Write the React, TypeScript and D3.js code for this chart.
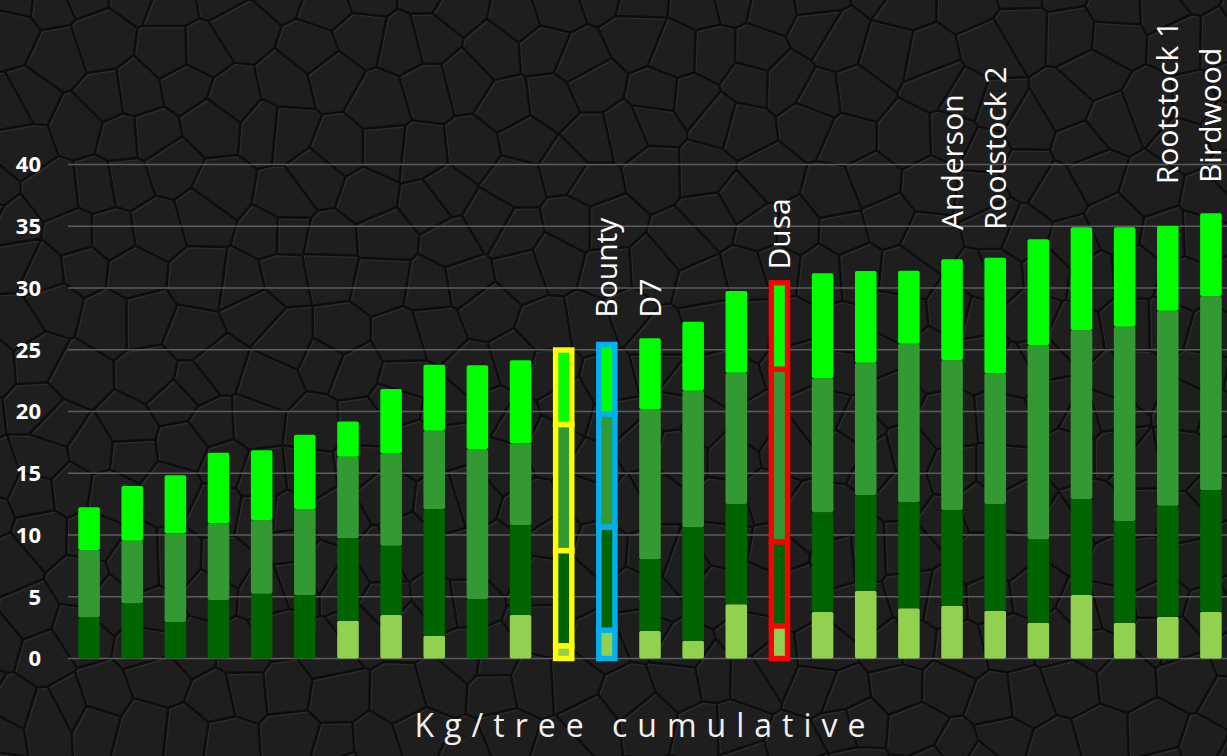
import { useMemo } from 'react'
import * as d3 from 'd3'

const W = 1227
const H = 756

// 27 trees, left to right
const categories = [
  'T1', 'T2', 'T3', 'T4', 'T5', 'T6', 'T7', 'T8', 'T9',
  'T10', 'T11', 'T12', 'T13', 'T14', 'T15', 'T16', 'T17', 'T18',
  'T19', 'T20', 'T21', 'T22', 'T23', 'T24', 'T25', 'T26', 'T27'
]

// kg/tree per harvest, stacked bottom to top
const light = [0, 0, 0, 0, 0, 0, 3.06, 3.52, 1.85, 0, 3.52, 1.03, 2.29, 2.23, 1.44, 4.39, 2.65, 3.77, 5.49, 4.06, 4.28, 3.87, 2.9, 5.14, 2.9, 3.38, 3.79]
const dark = [3.34, 4.47, 2.96, 4.74, 5.25, 5.14, 6.67, 5.61, 10.25, 4.82, 7.29, 7.71, 8.36, 5.8, 9.18, 8.12, 6.81, 8.08, 7.75, 8.59, 7.74, 8.64, 6.75, 7.77, 8.23, 8.99, 9.85]
const medium = [5.45, 5.07, 7.18, 6.21, 5.96, 6.96, 6.61, 7.48, 6.35, 12.14, 6.61, 10.21, 9.15, 12.17, 11.07, 10.63, 13.97, 10.85, 10.71, 12.84, 12.15, 10.58, 15.73, 13.69, 15.74, 15.79, 15.71]
const bright = [3.45, 4.43, 4.69, 5.72, 5.65, 6.02, 2.86, 5.21, 5.34, 6.78, 6.72, 6.03, 5.63, 5.73, 5.58, 6.62, 6.99, 8.49, 7.43, 5.91, 8.15, 9.36, 8.56, 8.31, 8.04, 6.86, 6.7]

const seriesKeys = ['light', 'dark', 'medium', 'bright']
const seriesColors = ['#92D050', '#006400', '#339933', '#00FF00']

const yTicks = [0, 5, 10, 15, 20, 25, 30, 35, 40]

// named cultivars (1-based bar number) and the value where the label starts
const labelBars = [13, 14, 17, 21, 22, 26, 27]
const labelNames = ['Bounty', 'D7', 'Dusa', 'Anderson', 'Rootstock 2', 'Rootstock 1', 'Birdwood']
const labelAt = [27.6, 27.6, 31.5, 34.7, 34.7, 38.4, 38.5]

// outlined bars
const highlightBars = [12, 13, 17]
const highlightColors = ['#FFFF00', '#00B0F0', '#FF0000']

const FONT = '"Open Sans", "DejaVu Sans", sans-serif'

function Texture() {
  // decorative leather-like cell background (not data)
  const paths = useMemo(() => {
    let s = 12345
    const rnd = () => (s = (s * 16807) % 2147483647) / 2147483647
    const pts: [number, number][] = []
    const cell = 46
    for (let gy = -1; gy * cell < H + cell; gy++) {
      for (let gx = -1; gx * cell < W + cell; gx++) {
        const off = gy % 2 ? cell / 2 : 0
        pts.push([gx * cell + off + (rnd() - 0.5) * cell * 0.8, gy * cell + (rnd() - 0.5) * cell * 0.8])
      }
    }
    const vor = d3.Delaunay.from(pts).voronoi([-20, -20, W + 20, H + 20])
    return vor.render()
  }, [])
  return (
    <g>
      <rect width={W} height={H} fill="#1e1e1e" />
      <path d={paths} fill="none" stroke="#2c2c2c" strokeWidth={2} transform="translate(1.5,1.5)" strokeLinejoin="round" />
      <path d={paths} fill="none" stroke="#0d0d0d" strokeWidth={2.5} strokeLinejoin="round" />
    </g>
  )
}

export default function App() {
  const rows = categories.map((c, i) => ({
    cat: c,
    light: light[i],
    dark: dark[i],
    medium: medium[i],
    bright: bright[i]
  }))

  const stacked = d3.stack<any>().keys(seriesKeys)(rows)

  const x = d3.scaleBand()
    .domain(categories)
    .range([67.5, 1232.5])
    .paddingInner(0.5)
    .paddingOuter(0.25)

  const y = d3.scaleLinear()
    .domain([0, 40])
    .range([658.5, 164.5])

  const bw = x.bandwidth()
  const sw = 5.4

  return (
    <svg
      width={W}
      height={H}
      viewBox={`0 0 ${W} ${H}`}
      style={{ position: 'absolute', left: 0, top: 0, display: 'block' }}
    >
      <Texture />

      <g className="grid">
        {yTicks.map(t => (
          <line key={t} x1={68} x2={W} y1={y(t)} y2={y(t)} stroke="#5c5c5c" strokeWidth={1.5} />
        ))}
      </g>

      <g className="y-ticks">
        {yTicks.map(t => (
          <text
            key={t}
            x={41}
            y={y(t)}
            dy="0.36em"
            textAnchor="end"
            fill="#ffffff"
            fontFamily={FONT}
            fontWeight={700}
            fontSize={22}
          >
            {t}
          </text>
        ))}
      </g>

      <g className="bars">
        {stacked.map((layer, li) => (
          <g key={layer.key}>
            {layer.map((d, i) => {
              if (d[1] - d[0] <= 0) return null
              const hi = highlightBars.indexOf(i + 1)
              const x0 = x(categories[i])!
              const yt = y(d[1])
              const h = y(d[0]) - y(d[1])
              if (hi >= 0) {
                return (
                  <rect
                    key={i}
                    x={x0 + sw / 2}
                    width={bw - sw}
                    y={yt}
                    height={h}
                    fill={seriesColors[li]}
                    stroke={highlightColors[hi]}
                    strokeWidth={sw}
                  />
                )
              }
              return (
                <rect
                  key={i}
                  x={x0}
                  width={bw}
                  y={yt}
                  height={h}
                  rx={1.8}
                  fill={seriesColors[li]}
                />
              )
            })}
          </g>
        ))}
      </g>

      <g className="labels">
        {labelBars.map((b, i) => {
          const cx = x(categories[b - 1])! + bw / 2
          return (
            <text
              key={labelNames[i]}
              transform={`translate(${cx + 10.5},${y(labelAt[i])}) rotate(-90)`}
              fill="#ffffff"
              fontFamily={FONT}
              fontSize={30}
            >
              {labelNames[i]}
            </text>
          )
        })}
      </g>

      <text
        x={645}
        y={737}
        textAnchor="middle"
        fill="#f0f0f0"
        fontFamily={FONT}
        fontSize={32}
        letterSpacing={10}
      >
        Kg/tree cumulative
      </text>
    </svg>
  )
}
